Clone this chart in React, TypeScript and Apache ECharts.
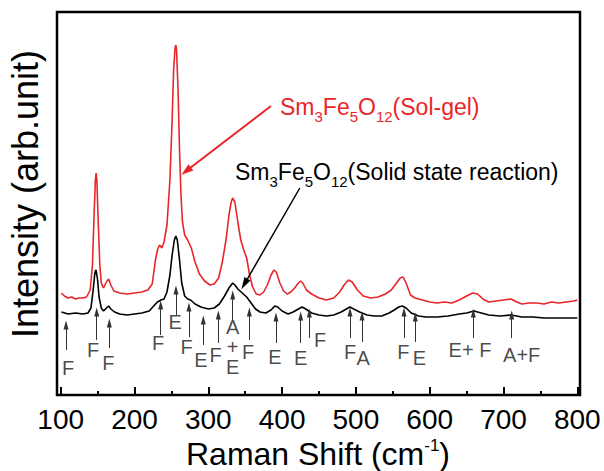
import React, { useEffect, useRef } from "react";
import * as echarts from "echarts";

const FONT = "'Liberation Sans', Arial, Helvetica, sans-serif";
const RED = "#e8262a";

// Raman shift (cm-1), intensity (arb. unit)
const solGel: [number, number][] = [
  [101, 102], [105, 99], [110, 97], [115, 98], [120, 96], [125, 97], [130, 97], [135, 98],
  [140, 105], [143, 130], [145, 175], [147, 215], [148, 222], [149, 215], [151, 170], [153, 130],
  [155, 112], [158, 107], [162, 113], [165, 116], [168, 110], [172, 104], [180, 102], [190, 101],
  [200, 102], [210, 103], [218, 105], [224, 111], [228, 133], [231, 145], [234, 150], [237, 147],
  [240, 153], [244, 170], [248, 215], [251, 275], [253, 325], [255, 347], [256, 350], [257, 345],
  [259, 305], [261, 245], [263, 200], [265, 173], [268, 160], [272, 155], [277, 147], [282, 133],
  [288, 121], [295, 114], [302, 110], [308, 111], [314, 117], [319, 133], [324, 155], [328, 180],
  [331, 193], [333, 197], [336, 193], [340, 173], [344, 155], [348, 145], [352, 137], [356, 120],
  [360, 108], [365, 101], [370, 100], [375, 103], [380, 110], [385, 120], [389, 125], [392, 123],
  [397, 112], [402, 104], [407, 101], [412, 103], [417, 107], [422, 112], [425, 114], [428, 112],
  [433, 105], [440, 101], [450, 97], [460, 95], [470, 97], [478, 103], [484, 110], [490, 115],
  [495, 113], [502, 105], [510, 99], [520, 97], [530, 98], [540, 101], [548, 105], [555, 112],
  [560, 117], [564, 118], [568, 112], [574, 100], [580, 97], [590, 95], [600, 93], [610, 92],
  [620, 93], [630, 92], [640, 95], [650, 99], [658, 102], [665, 101], [672, 96], [680, 93],
  [690, 94], [700, 95], [710, 96], [718, 93], [725, 91], [735, 92], [745, 92], [755, 91],
  [765, 93], [775, 92], [785, 93], [795, 94], [800, 95],
];

const solidState: [number, number][] = [
  [101, 83], [110, 81], [120, 82], [130, 81], [137, 82], [141, 87], [144, 105], [146, 120],
  [147, 124], [148, 125], [150, 115], [152, 98], [155, 87], [158, 84], [162, 87], [165, 89],
  [168, 86], [173, 83], [180, 81], [190, 80], [200, 81], [210, 82], [220, 84], [226, 89],
  [231, 93], [236, 95], [240, 96], [244, 103], [248, 120], [251, 140], [254, 155], [256, 159],
  [258, 155], [261, 135], [264, 112], [268, 99], [272, 96], [276, 95], [282, 91], [290, 88],
  [300, 86], [308, 87], [315, 91], [322, 99], [328, 107], [333, 112], [336, 110], [340, 106],
  [346, 102], [352, 98], [358, 92], [364, 86], [370, 83], [378, 82], [385, 85], [390, 89],
  [394, 88], [400, 84], [408, 81], [415, 83], [422, 86], [427, 88], [432, 86], [440, 82],
  [450, 80], [460, 79], [470, 80], [480, 83], [487, 86], [492, 88], [497, 86], [505, 83],
  [515, 80], [525, 79], [535, 79], [545, 82], [552, 85], [558, 88], [563, 89], [568, 87],
  [575, 82], [585, 79], [595, 78], [610, 78], [625, 79], [640, 81], [650, 82], [660, 84],
  [670, 82], [680, 80], [695, 79], [710, 80], [725, 78], [740, 78], [755, 77], [770, 77],
  [785, 77], [800, 77],
];

// mode labels: wavenumber, height, text
const modeLabels: [number, number, string][] = [
  [110, 27, "F"], [144, 45, "F"], [164.5, 32, "F"], [232, 52, "F"], [255, 73, "E"],
  [270.7, 48, "F"], [290, 35, "E"], [310, 40, "F"], [333, 48, "A\n+\nE"],
  [354, 43, "F"], [390.4, 38, "E"], [425.2, 37, "E"], [451.4, 55, "F"],
  [492, 43, "F"], [510, 37, "A"], [564.2, 43, "F"], [586, 37, "E"], [654.6, 45, "E+ F"],
  [724.7, 40, "A+F"],
];

// mode arrows: wavenumber, tail height, head height
const modeArrows: [number, number, number][] = [
  [107.2, 45, 70], [148.8, 55, 83], [165.9, 47, 72], [235.5, 60, 90], [256.2, 80, 105],
  [273.8, 58, 88], [293.2, 50, 75], [313.6, 52, 80], [333.1, 75, 100], [355.6, 55, 83],
  [391.7, 52, 78], [425.2, 52, 79], [436.9, 57, 82], [492, 57, 83], [508.3, 53, 79],
  [565.2, 57, 83], [580.5, 53, 78], [659.1, 57, 82], [711.1, 57, 80],
];

// sample-name pointers: [tail x, tail y], [head x, head y]
const solGelPointer: [number, number][] = [[385, 289], [270, 224]];
const solidPointer: [number, number][] = [[424, 207], [349, 111]];

// text pieces: [text, shift] (shift: 0 normal, 1 subscript, -1 superscript)
const solGelName: [string, number][] = [["Sm", 0], ["3", 1], ["Fe", 0], ["5", 1], ["O", 0], ["12", 1], ["(Sol-gel)", 0]];
const solidName: [string, number][] = [["Sm", 0], ["3", 1], ["Fe", 0], ["5", 1], ["O", 0], ["12", 1], ["(Solid state reaction)", 0]];
const xTitle: [string, number][] = [["Raman Shift (cm", 0], ["-1", -1], [")", 0]];

function measure(text: string, size: number): number {
  const c = document.createElement("canvas").getContext("2d");
  if (!c) return text.length * size * 0.55;
  c.font = `${size}px 'Liberation Sans', Arial, sans-serif`;
  return c.measureText(text).width;
}

function richText(
  parts: [string, number][],
  x0: number,
  cy: number,
  color: string,
  main: number,
  small: number,
  subDy: number,
  supDy: number,
  centered: boolean
) {
  const widths = parts.map(([t, s]) => measure(t, s === 0 ? main : small));
  const total = widths.reduce((a, b) => a + b, 0);
  let x = centered ? x0 - total / 2 : x0;
  const children: any[] = [];
  parts.forEach(([t, s], i) => {
    const size = s === 0 ? main : small;
    children.push({
      type: "text",
      x,
      y: s === 0 ? cy : s > 0 ? cy + subDy : cy + supDy,
      style: {
        text: t,
        fill: color,
        font: `${size}px ${FONT}`,
        lineHeight: s === 0 ? main : small - 3,
        align: "left",
        verticalAlign: "middle",
      },
    });
    x += widths[i];
  });
  return { type: "group", children };
}

export default function App() {
  const ref = useRef<HTMLDivElement>(null);
  useEffect(() => {
    const chart = echarts.init(ref.current!, null, { renderer: "svg" });
    const arrowData: any[] = modeArrows.map(([v, a, b]) => [
      { coord: [v, a], symbol: "none" },
      { coord: [v, b], symbol: "triangle", symbolSize: [5, 9] },
    ]);
    arrowData.push([
      { coord: solGelPointer[0], symbol: "none", lineStyle: { color: RED, width: 2 } },
      { coord: solGelPointer[1], symbol: "triangle", symbolSize: [8, 12] },
    ]);
    arrowData.push([
      { coord: solidPointer[0], symbol: "none", lineStyle: { color: "#000", width: 1.5 } },
      { coord: solidPointer[1], symbol: "triangle", symbolSize: [7, 12] },
    ]);
    chart.setOption({
      animation: false,
      grid: { left: 60.7, right: 26.7, top: 12, bottom: 76, containLabel: false },
      xAxis: {
        type: "value",
        min: 100,
        max: 800,
        interval: 100,
        axisLine: { show: false },
        axisTick: { show: true, inside: true, length: 8, lineStyle: { color: "#000", width: 2 } },
        minorTick: { show: true, splitNumber: 2, length: 4, lineStyle: { color: "#000", width: 2 } },
        splitLine: { show: false },
        axisLabel: { fontSize: 28, lineHeight: 24, color: "#000", fontFamily: FONT, margin: 12 },
      },
      yAxis: {
        type: "value",
        min: 0,
        max: 383,
        axisLine: { show: false },
        axisTick: { show: false },
        axisLabel: { show: false },
        splitLine: { show: false },
      },
      series: [
        {
          name: "Sol-gel",
          type: "line",
          data: solGel,
          showSymbol: false,
          lineStyle: { color: RED, width: 1.6 },
          silent: true,
        },
        {
          name: "Solid state reaction",
          type: "line",
          data: solidState,
          showSymbol: false,
          lineStyle: { color: "#000", width: 1.6 },
          silent: true,
        },
        {
          name: "modes",
          type: "scatter",
          data: modeLabels,
          symbolSize: 0,
          silent: true,
          label: {
            show: true,
            position: "inside",
            formatter: (p: any) => p.data[2],
            fontSize: 20,
            lineHeight: 20,
            color: "#1a1a1a",
            fontFamily: FONT,
          },
          markLine: {
            silent: true,
            label: { show: false },
            lineStyle: { color: "#333", width: 1, type: "solid" },
            emphasis: { disabled: true },
            data: arrowData,
          },
        },
      ],
      graphic: [
        {
          type: "rect",
          shape: { x: 57, y: 12, width: 523, height: 383 },
          style: { fill: "none", stroke: "#000", lineWidth: 2.5 },
          silent: true,
        },
        {
          type: "text",
          x: 25,
          y: 194,
          rotation: Math.PI / 2,
          style: {
            text: "Intensity (arb.unit)",
            font: `36px ${FONT}`,
            fill: "#000",
            align: "center",
            verticalAlign: "middle",
          },
        },
        richText(xTitle, 318, 454, "#000", 32, 17, 0, -9, true),
        richText(solGelName, 280, 107, RED, 23, 15, 9, 0, false),
        richText(solidName, 235, 172, "#000", 23, 15, 9, 0, false),
      ],
    });
    return () => chart.dispose();
  }, []);
  return (
    <div
      ref={ref}
      style={{ position: "fixed", left: 0, top: 0, width: 604, height: 471, background: "#fff" }}
    />
  );
}
